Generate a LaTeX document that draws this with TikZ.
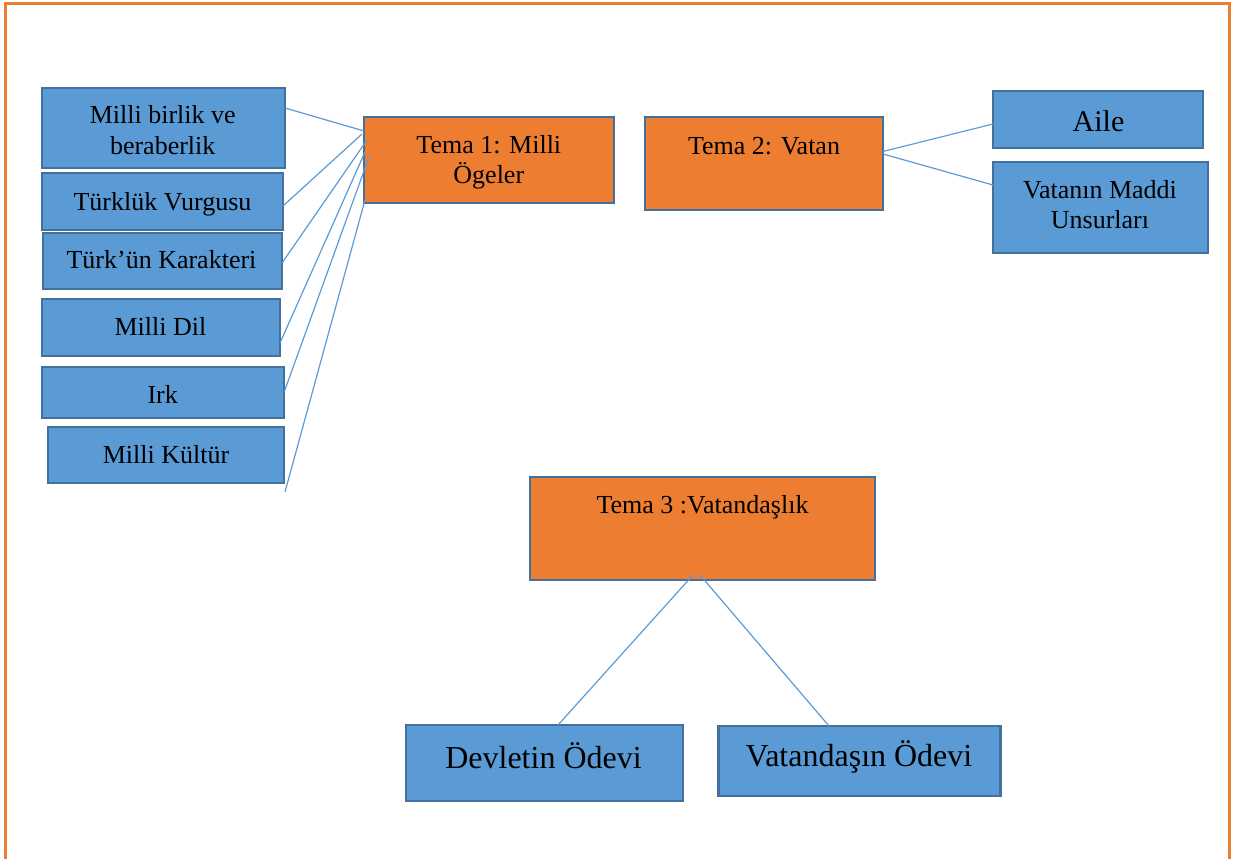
\documentclass[tikz,border=0pt]{standalone}
\usepackage{fontspec}
\setmainfont{Liberation Serif}
\definecolor{boxblue}{HTML}{5B9BD5}
\definecolor{boxedge}{HTML}{41719C}
\definecolor{boxorange}{HTML}{ED7D31}
\begin{document}
\begin{tikzpicture}[x=1pt,y=-1pt,
 bluebox/.style={draw=boxedge, fill=boxblue, line width=2.5pt, inner sep=0pt, outer sep=0pt, rectangle},
 orangebox/.style={draw=boxedge, fill=boxorange, line width=2.5pt, inner sep=0pt, outer sep=0pt, rectangle},
 txt/.style={anchor=base, inner sep=0pt, align=center, font=\fontsize{26}{31}\selectfont},
 bigtxt/.style={txt, font=\fontsize{32}{38}\selectfont},
 midtxt/.style={txt, font=\fontsize{30}{36}\selectfont},
 link/.style={draw=boxblue, line width=1.2pt}]
\useasboundingbox (0,0) rectangle (1234,859);
\clip (0,0) rectangle (1234,859);
\draw[boxorange, line width=3pt] (5,4) rectangle (1229,880);

% left boxes
\node[bluebox, minimum width=243pt, minimum height=80pt] (b1) at (163.5,128) {};
\node[bluebox, minimum width=241pt, minimum height=57pt] (b2) at (162.5,201.5) {};
\node[bluebox, minimum width=239pt, minimum height=56pt] (b3) at (162.5,261) {};
\node[bluebox, minimum width=238pt, minimum height=57pt] (b4) at (161,327.5) {};
\node[bluebox, minimum width=242pt, minimum height=51pt] (b5) at (163,392.5) {};
\node[bluebox, minimum width=236pt, minimum height=56pt] (b6) at (166,455) {};
\node[txt] (b1t) at (162.7,154) {Milli birlik ve\\beraberlik};
\node[txt] (b2t) at (162.5,210) {Türklük Vurgusu};
\node[txt] (b3t) at (161.5,268) {Türk’ün Karakteri};
\node[txt] (b4t) at (160.5,335) {Milli Dil};
\node[txt] (b5t) at (162.7,403) {Irk};
\node[txt] (b6t) at (166,463) {Milli Kültür};

% theme 1
\node[orangebox, minimum width=250pt, minimum height=86pt] (t1) at (489,160) {};
\node[txt, font=\fontsize{26}{30}\selectfont] (t1t) at (488.8,183) {Tema 1: Milli\\Ögeler};

% theme 2
\node[orangebox, minimum width=238pt, minimum height=93pt] (t2) at (764,163.5) {};
\node[txt] (t2t) at (764,154) {Tema 2: Vatan};
\node[bluebox, minimum width=210pt, minimum height=57pt] (aile) at (1098,119.5) {};
\node[midtxt] (ailet) at (1098.5,131) {Aile};
\node[bluebox, minimum width=215pt, minimum height=91pt] (vmu) at (1100.5,207.5) {};
\node[txt, font=\fontsize{26}{30}\selectfont] (vmut) at (1100,228) {Vatanın Maddi\\Unsurları};

% theme 3
\node[orangebox, minimum width=345pt, minimum height=103pt] (t3) at (702.5,528.5) {};
\node[txt] (t3t) at (702.5,513) {Tema 3 :Vatandaşlık};
\node[bluebox, minimum width=277pt, minimum height=76pt] (dev) at (544.5,763) {};
\node[bigtxt] (devt) at (543.5,768) {Devletin Ödevi};
\node[bluebox, minimum width=282pt, minimum height=70pt] (vat) at (859.5,761) {};
\node[bigtxt] (vatt) at (859,766) {Vatandaşın Ödevi};

% connectors theme 1
\coordinate (free) at (285,492);
\draw[link] ([yshift=20pt]b1.east) -- ([yshift=29pt]t1.west);
\draw[link] ([yshift=-4.5pt]b2.east) -- ([xshift=-2pt,yshift=26pt]t1.west);
\draw[link] ([yshift=-2pt]b3.east) -- ([xshift=3pt,yshift=20pt]t1.west);
\draw[link] ([yshift=-15.5pt]b4.east) -- ([xshift=1pt,yshift=8pt]t1.west);
\draw[link] (b5.east) -- ([xshift=5pt,yshift=3pt]t1.west);
\draw[link] (free) -- ([xshift=1pt,yshift=-40pt]t1.west);

% connectors theme 2
\draw[link] ([yshift=12pt]t2.east) -- ([yshift=-4.5pt]aile.west);
\draw[link] ([yshift=9.5pt]t2.east) -- ([yshift=22.5pt]vmu.west);

% connectors theme 3
\draw[link] ([xshift=-9.5pt,yshift=5pt]t3.south) -- ([xshift=13.5pt]dev.north);
\draw[link] ([xshift=-2.5pt,yshift=5pt]t3.south) -- ([xshift=-30.5pt]vat.north);
\end{tikzpicture}
\end{document}
